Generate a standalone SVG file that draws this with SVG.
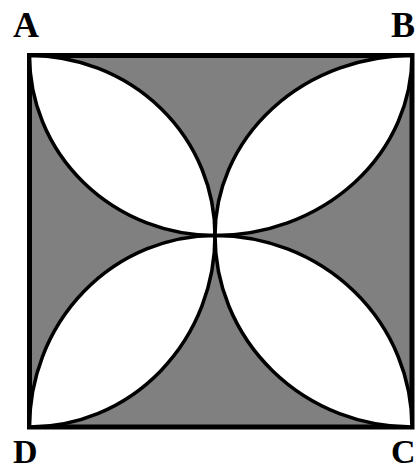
<svg xmlns="http://www.w3.org/2000/svg" width="416" height="472" viewBox="0 0 416 472">
<style>
.sq{fill:#808080;stroke:#000;stroke-width:5}
.petal{fill:#fff;stroke:#000;stroke-width:3.5;stroke-linejoin:round}
.lbl{font-family:"Liberation Serif","DejaVu Serif",serif;font-weight:bold;font-size:36px;fill:#000}
.lo{font-size:34px}
</style>
<rect width="416" height="472" fill="#fff"/>
<g id="square"><rect class="sq" x="29.5" y="55.5" width="382.5" height="371.5"/></g>
<g id="connectors">
<path id="petal-A" class="petal" d="M29.5 55.5 A185.5 180 0 0 1 215 235.5 A185.5 180 0 0 1 29.5 55.5 Z"/>
<path id="petal-B" class="petal" d="M412 55.5 A197 180 0 0 0 215 235.5 A197 180 0 0 0 412 55.5 Z"/>
<path id="petal-D" class="petal" d="M29.5 427 A185.5 191.5 0 0 0 215 235.5 A185.5 191.5 0 0 0 29.5 427 Z"/>
<path id="petal-C" class="petal" d="M412 427 A197 191.5 0 0 1 215 235.5 A197 191.5 0 0 1 412 427 Z"/>
</g>
<g id="A"><text class="lbl" x="13" y="37">A</text></g>
<g id="B"><text class="lbl" x="391" y="37">B</text></g>
<g id="D"><text class="lbl lo" x="13" y="463">D</text></g>
<g id="C"><text class="lbl lo" x="391" y="463">C</text></g>
</svg>
